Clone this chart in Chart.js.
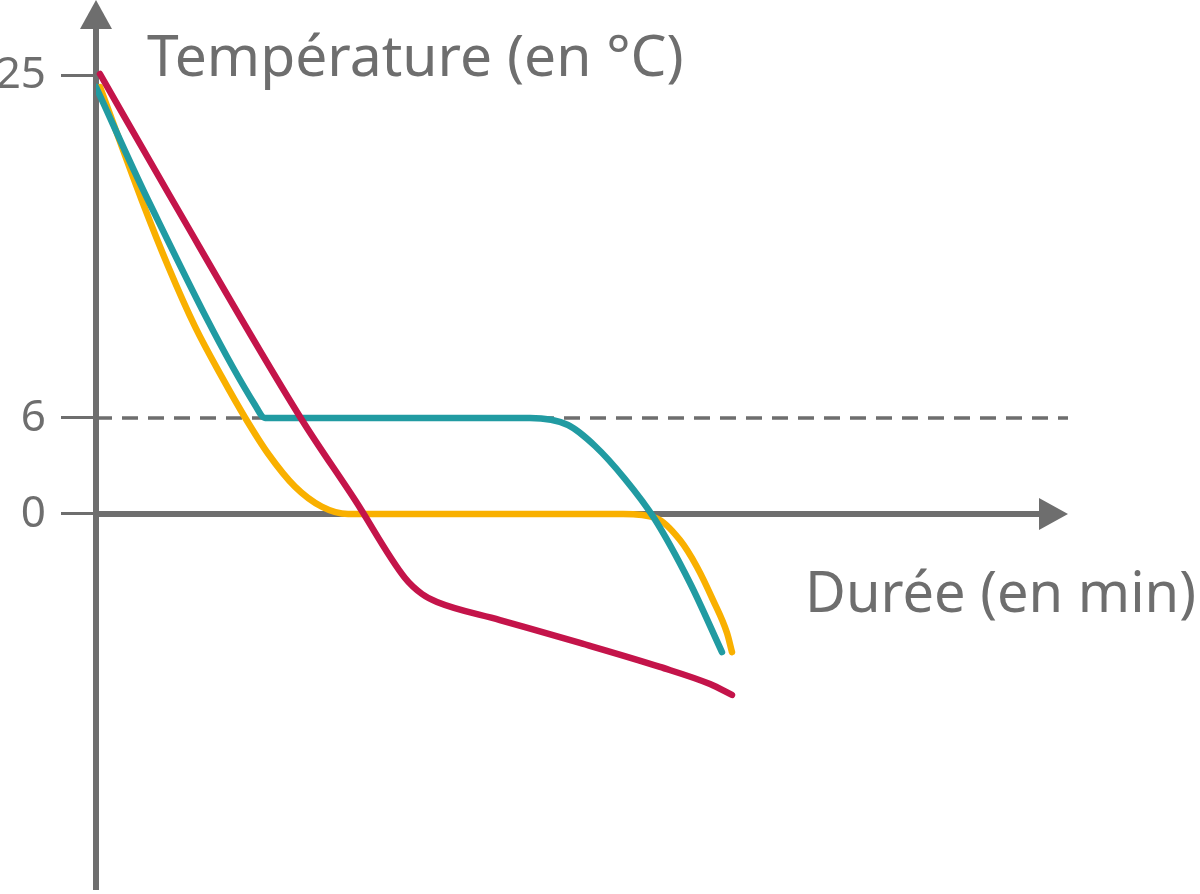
<!DOCTYPE html>
<html>
<head>
<meta charset="utf-8">
<script src="https://cdn.jsdelivr.net/npm/chart.js@4"></script>
<style>
  html, body { margin: 0; padding: 0; background: #fff; }
</style>
</head>
<body>
<canvas id="coolingChart" width="1200" height="894"></canvas>
<script>
// time in arbitrary minutes, temperature in °C
const tealTime = [0, 5.35, 16.36, 17.39, 31.28, 44.65, 48.56, 51.34, 54.42, 57.41, 61.11, 64.4];
const tealTemp = [24.34, 18.08, 6.72, 6, 6, 6, 5.56, 4.25, 2.19, -0.25, -4.31, -8.63];

const yellowTime = [0.41, 4.70, 7.44, 10.19, 12.93, 15.33, 17.73, 20.47, 23.22, 25.93, 36.4, 54.22, 57.61, 60.08, 61.83, 63.48, 64.92, 65.43];
const yellowTemp = [24.34, 18.08, 14.38, 11.06, 8.29, 6.03, 3.75, 1.71, 0.46, 0, 0, 0, -0.25, -1.63, -3.31, -5.38, -7.44, -8.63];

const redTime = [0.41, 7.61, 21.19, 26.65, 31.79, 33.54, 35.08, 41.56, 49.79, 58.02, 63.17, 65.43];
const redTemp = [25.06, 18.30, 5.88, 0.875, -4.0, -5.0, -5.5, -6.63, -8.06, -9.56, -10.63, -11.31];

const markTemp = 6;
const yTicks = [0, 6, 25];

const gray = '#6e6e6e';
const font = '"Noto Sans", "Open Sans", sans-serif';

// the sketch's vertical axis is not uniform: above 6 °C it is a bit stretched
const Y_BREAK = 6;
const Y_STRETCH = 1.128;

class StretchScale extends Chart.LinearScale {
    warp(v) { return v > Y_BREAK ? Y_BREAK + (v - Y_BREAK) * Y_STRETCH : v; }
    getPixelForValue(v) {
        const lo = this.warp(this.min), hi = this.warp(this.max);
        return this.getPixelForDecimal((this.warp(v) - lo) / (hi - lo));
    }
    getValueForPixel(p) {
        const lo = this.warp(this.min), hi = this.warp(this.max);
        const u = lo + this.getDecimalForPixel(p) * (hi - lo);
        return u > Y_BREAK ? Y_BREAK + (u - Y_BREAK) / Y_STRETCH : u;
    }
}
StretchScale.id = 'stretch';
StretchScale.defaults = Chart.LinearScale.defaults;
Chart.register(StretchScale);

const toPoints = (xs, ys) => xs.map((x, i) => ({ x: x, y: ys[i] }));

const axesPlugin = {
    id: 'arrowAxes',
    beforeDatasetsDraw(chart) {
        const { ctx, chartArea, scales } = chart;
        const x0 = chartArea.left;
        const y0 = scales.y.getPixelForValue(0);
        ctx.save();
        ctx.strokeStyle = gray;
        ctx.fillStyle = gray;
        ctx.lineWidth = 6;
        ctx.beginPath();
        ctx.moveTo(x0, chartArea.top + 26);
        ctx.lineTo(x0, chartArea.bottom);
        ctx.moveTo(x0 - 3, y0);
        ctx.lineTo(chartArea.right - 26, y0);
        ctx.stroke();
        ctx.beginPath();
        ctx.moveTo(x0, chartArea.top);
        ctx.lineTo(x0 - 16, chartArea.top + 29);
        ctx.lineTo(x0 + 16, chartArea.top + 29);
        ctx.closePath();
        ctx.fill();
        ctx.beginPath();
        ctx.moveTo(chartArea.right, y0);
        ctx.lineTo(chartArea.right - 29, y0 - 16);
        ctx.lineTo(chartArea.right - 29, y0 + 16);
        ctx.closePath();
        ctx.fill();
        ctx.restore();
    },
    afterDraw(chart) {
        const ctx = chart.ctx;
        ctx.save();
        ctx.fillStyle = gray;
        ctx.textBaseline = 'alphabetic';
        ctx.font = '57px ' + font;
        ctx.textAlign = 'left';
        ctx.fillText('Température (en °C)', 147, 76);
        ctx.font = '56px ' + font;
        ctx.textAlign = 'right';
        ctx.fillText('Durée (en min)', 1196, 612);
        ctx.restore();
    }
};

const lineStyle = {
    pointRadius: 0,
    borderWidth: 6.5,
    borderCapStyle: 'round',
    borderJoinStyle: 'round',
    cubicInterpolationMode: 'monotone',
    fill: false
};

new Chart(document.getElementById('coolingChart').getContext('2d'), {
    type: 'line',
    data: {
        datasets: [
            { ...lineStyle, data: toPoints(redTime, redTemp), borderColor: '#c4144a', order: 0 },
            { ...lineStyle, data: toPoints(tealTime, tealTemp), borderColor: '#219ba2', order: 1 },
            { ...lineStyle, data: toPoints(yellowTime, yellowTemp), borderColor: '#f9b000', order: 2 },
            {
                data: [{ x: 0, y: markTemp }, { x: 100, y: markTemp }],
                borderColor: gray, borderWidth: 3.5, borderDash: [16, 10],
                pointRadius: 0, tension: 0, order: 3
            }
        ]
    },
    options: {
        responsive: false,
        animation: false,
        events: [],
        layout: { padding: { left: 0, top: 0, right: 132, bottom: 4 } },
        plugins: { legend: { display: false }, tooltip: { enabled: false }, title: { display: false } },
        scales: {
            x: { type: 'linear', min: 0, max: 100, display: false },
            y: {
                type: 'stretch',
                min: -23.5,
                max: 29.16,
                bounds: 'data',
                border: { display: false },
                grid: { drawOnChartArea: false, drawTicks: true, tickLength: 35, tickWidth: 3, tickColor: gray },
                ticks: { color: gray, padding: 15, font: { family: font, size: 44 } },
                afterBuildTicks: scale => { scale.ticks = yTicks.map(v => ({ value: v })); },
                afterFit: scale => {
                    scale.width = 96;
                    scale.paddingTop = 0;
                    scale.paddingBottom = 0;
                    scale.paddingLeft = 0;
                    scale.paddingRight = 0;
                }
            }
        }
    },
    plugins: [axesPlugin]
});
</script>
</body>
</html>
